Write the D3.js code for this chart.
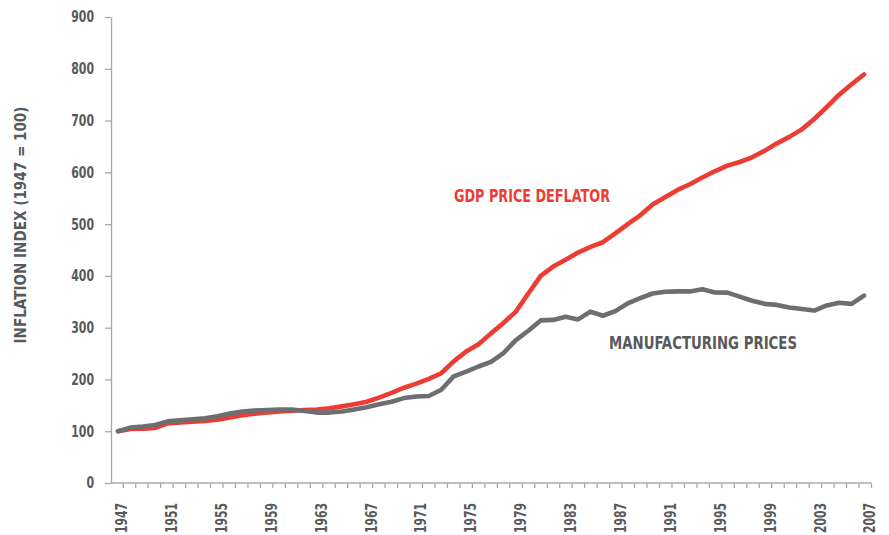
<!DOCTYPE html>
<html>
<head>
<meta charset="utf-8">
<script src="https://cdn.jsdelivr.net/npm/d3@7"></script>
<style>
  body { margin: 0; background: #fff; }
  svg text { font-family: 'Liberation Sans Narrow', 'DejaVu Sans Condensed', 'Liberation Sans', sans-serif; font-weight: bold; }
</style>
</head>
<body>
<svg id="chart" width="889" height="535"></svg>
<script>
// years on the x axis, one point per year
var years = d3.range(1947, 2008);
var yearLabels = d3.range(1947, 2008, 4);
var yTicks = [0, 100, 200, 300, 400, 500, 600, 700, 800, 900];

// GDP price deflator, 1947 = 100
var gdpDeflator = [
  100, 104.5, 105, 106.5, 115, 117, 118.5, 120, 122, 126.5,
  131, 134, 136, 138, 139.5, 141, 142, 144.5, 148, 152,
  157, 165, 174, 184, 192, 201, 212, 235, 254, 268,
  289, 309, 331, 366, 400, 418, 431, 445, 456, 465,
  482, 500, 517, 538, 552, 566, 577, 590, 602, 613,
  620, 629, 641.5, 656, 668.5, 683, 703, 726, 750, 770,
  789
];

// manufacturing prices, 1947 = 100
var mfgPrices = [
  100, 107, 109, 112, 119, 121, 123, 125, 129, 134,
  138, 140, 141, 142, 142, 139, 136, 136, 138, 142,
  146.5, 152, 157, 164, 167, 168, 180, 206, 215, 225,
  234, 251, 276, 294, 314, 315, 321, 316, 331, 323,
  332, 347, 357, 366, 369.5, 370, 370, 374, 368, 367.6,
  360, 352, 346, 344, 339, 336, 333, 343, 348, 346,
  362
];

var axisColor = "#a7a9ac";
var textColor = "#58595b";
var red = "#ec3c33";
var grey = "#6d6e71";

var svg = d3.select("#chart");

var y = d3.scaleLinear().domain([0, 900]).range([483, 17]);
// data points
var x = d3.scaleLinear().domain([1947, 2007]).range([118, 864]);
// tick marks sit a little to the right of the points
var xTick = d3.scaleLinear().domain([1947, 2007]).range([122.7, 871]);

// the original type is a tight condensed face, squeeze ours to the same width
function squeeze(sel, perChar) {
  sel.attr("textLength", function () { return this.textContent.length * perChar; })
    .attr("lengthAdjust", "spacingAndGlyphs");
}

/********** y axis **********/
var yAxis = svg.append("g")
  .attr("transform", "translate(111,0)")
  .call(d3.axisLeft(y).tickValues(yTicks).tickSize(6).tickSizeOuter(0).tickPadding(11));

yAxis.select(".domain").attr("stroke", axisColor).attr("stroke-width", 1.3);
yAxis.selectAll(".tick line").attr("stroke", axisColor).attr("stroke-width", 1.3);
yAxis.selectAll(".tick text")
  .attr("fill", textColor)
  .style("font-size", "15.5px")
  .call(squeeze, 7.6);

/********** x axis **********/
svg.append("line")
  .attr("x1", 111).attr("x2", xTick(2007))
  .attr("y1", y(0)).attr("y2", y(0))
  .attr("stroke", axisColor).attr("stroke-width", 1.3);

var xAxis = svg.append("g")
  .attr("transform", "translate(0," + y(0) + ")")
  .call(d3.axisBottom(xTick).tickValues(years).tickSize(5).tickSizeOuter(0).tickFormat(""));
xAxis.select(".domain").remove();
xAxis.selectAll(".tick line").attr("stroke", axisColor).attr("stroke-width", 1.3);

svg.append("g").selectAll("text")
  .data(yearLabels)
  .enter()
  .append("text")
  .attr("transform", function (d) { return "translate(" + (xTick(d) - 1) + ",503) rotate(-90)"; })
  .attr("text-anchor", "end")
  .attr("dy", "0.36em")
  .attr("fill", textColor)
  .style("font-size", "15px")
  .text(function (d) { return d; })
  .call(squeeze, 7.5);

// y axis title
svg.append("text")
  .attr("transform", "translate(21,225) rotate(-90)")
  .attr("text-anchor", "middle")
  .attr("dy", "0.36em")
  .attr("fill", textColor)
  .style("font-size", "15px")
  .attr("textLength", 237)
  .attr("lengthAdjust", "spacingAndGlyphs")
  .text("INFLATION INDEX (1947 = 100)");

/********** lines **********/
var line = function (values) {
  return d3.line()
    .x(function (d, i) { return x(years[i]); })
    .y(function (d) { return y(d); })(values);
};

svg.append("path")
  .attr("d", line(gdpDeflator))
  .attr("fill", "none")
  .attr("stroke", red)
  .attr("stroke-width", 4.6)
  .attr("stroke-linejoin", "round")
  .attr("stroke-linecap", "round");

svg.append("path")
  .attr("d", line(mfgPrices))
  .attr("fill", "none")
  .attr("stroke", grey)
  .attr("stroke-width", 4.6)
  .attr("stroke-linejoin", "round")
  .attr("stroke-linecap", "round");

/********** series labels **********/
svg.append("text")
  .attr("x", 454).attr("y", 201.5)
  .attr("fill", red)
  .style("font-size", "17px")
  .attr("textLength", 156)
  .attr("lengthAdjust", "spacingAndGlyphs")
  .text("GDP PRICE DEFLATOR");

svg.append("text")
  .attr("x", 609).attr("y", 349.3)
  .attr("fill", textColor)
  .style("font-size", "17px")
  .attr("textLength", 188)
  .attr("lengthAdjust", "spacingAndGlyphs")
  .text("MANUFACTURING PRICES");
</script>
</body>
</html>
